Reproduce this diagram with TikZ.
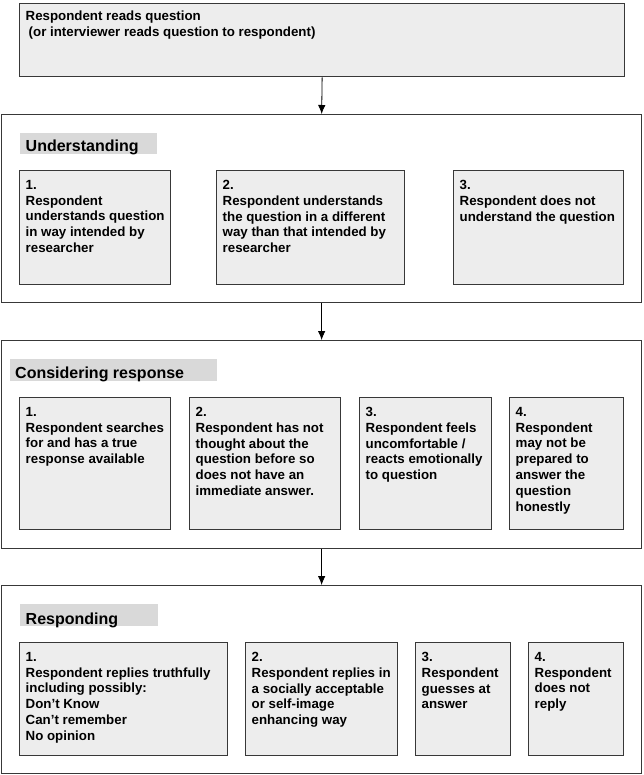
\documentclass[tikz,border=0pt]{standalone}
\usepackage{fontspec}
\setmainfont{Liberation Sans}
\usetikzlibrary{arrows.meta}
\definecolor{boxfill}{HTML}{EDEDED}
\definecolor{barfill}{HTML}{D9D9D9}
\definecolor{edge}{HTML}{383838}
\begin{document}
\begin{tikzpicture}[x=1pt,y=-1pt,
 outer/.style={draw=edge, line width=1.3pt, fill=white, anchor=north west, inner sep=0pt},
 ibox/.style={draw=edge, line width=1pt, fill=boxfill, anchor=north west, inner sep=0pt},
 bar/.style={fill=barfill, anchor=north west, inner sep=0pt},
 itext/.style={anchor=north west, inner sep=0pt, align=left, font=\fontsize{13.3}{15.8}\selectfont\bfseries},
 ttext/.style={anchor=base west, inner sep=0pt, font=\fontsize{16}{19}\selectfont\bfseries},
 arr/.style={-{Latex[length=9pt,width=7.5pt]}, line width=0.8pt}
]
\useasboundingbox (0,0) rectangle (643,775);

% top box
\node[ibox, line width=1.3pt, minimum width=605pt, minimum height=73pt] (top) at (19,3) {};
\node[itext] (topt) at ([shift={(6.5,8)}]top.north west) {Respondent reads question\\\hspace{3pt}(or interviewer reads question to respondent)};

% outer boxes
\node[outer, minimum width=640pt, minimum height=188pt] (und) at (1,114) {};
\node[outer, minimum width=640pt, minimum height=208pt] (cons) at (1,340) {};
\node[outer, minimum width=640pt, minimum height=188pt] (resp) at (1,585) {};

% title bars
\node[bar, minimum width=137pt, minimum height=21pt] (ubar) at (20,133) {};
\node[bar, minimum width=207pt, minimum height=22pt] (cbar) at (10,359) {};
\node[bar, minimum width=138pt, minimum height=22pt] (rbar) at (20,604) {};
\node[ttext] (ut) at (25.5,151.5) {Understanding};
\node[ttext] (ct) at (15,378.5) {Considering response};
\node[ttext] (rt) at (25.5,624) {Responding};

% Understanding boxes
\node[ibox, minimum width=151pt, minimum height=114pt] (u1) at (19,170) {};
\node[ibox, minimum width=188pt, minimum height=114pt] (u2) at (216,170) {};
\node[ibox, minimum width=170pt, minimum height=114pt] (u3) at (453,170) {};
\node[itext] (u1t) at ([shift={(6.5,10)}]u1.north west) {1.\\Respondent\\understands question\\in way intended by\\researcher};
\node[itext] (u2t) at ([shift={(6.5,10)}]u2.north west) {2.\\Respondent understands\\the question in a different\\way than that intended by\\researcher};
\node[itext] (u3t) at ([shift={(6.5,10)}]u3.north west) {3.\\Respondent does not\\understand the question};

% Considering boxes
\node[ibox, minimum width=151pt, minimum height=132pt] (c1) at (19,397) {};
\node[ibox, minimum width=151pt, minimum height=132pt] (c2) at (189,397) {};
\node[ibox, minimum width=132pt, minimum height=132pt] (c3) at (359,397) {};
\node[ibox, minimum width=114pt, minimum height=132pt] (c4) at (509,397) {};
\node[itext] (c1t) at ([shift={(6.5,10)}]c1.north west) {1.\\Respondent searches\\for and has a true\\response available};
\node[itext] (c2t) at ([shift={(6.5,10)}]c2.north west) {2.\\Respondent has not\\thought about the\\question before so\\does not have an\\immediate answer.};
\node[itext] (c3t) at ([shift={(6.5,10)}]c3.north west) {3.\\Respondent feels\\uncomfortable /\\reacts emotionally\\to question};
\node[itext] (c4t) at ([shift={(6.5,10)}]c4.north west) {4.\\Respondent\\may not be\\prepared to\\answer the\\question\\honestly};

% Responding boxes
\node[ibox, minimum width=208pt, minimum height=113pt] (r1) at (19,642) {};
\node[ibox, minimum width=152pt, minimum height=113pt] (r2) at (245,642) {};
\node[ibox, minimum width=95pt, minimum height=113pt] (r3) at (415,642) {};
\node[ibox, minimum width=95pt, minimum height=113pt] (r4) at (528,642) {};
\node[itext] (r1t) at ([shift={(6.5,10)}]r1.north west) {1.\\Respondent replies truthfully\\including possibly:\\Don’t Know\\Can’t remember\\No opinion};
\node[itext] (r2t) at ([shift={(6.5,10)}]r2.north west) {2.\\Respondent replies in\\a socially acceptable\\or self-image\\enhancing way};
\node[itext] (r3t) at ([shift={(6.5,10)}]r3.north west) {3.\\Respondent\\guesses at\\answer};
\node[itext] (r4t) at ([shift={(6.5,10)}]r4.north west) {4.\\Respondent\\does not\\reply};

% arrows
\draw[arr] (top.south) -- (und.north);
\draw[arr] (und.south) -- (cons.north);
\draw[arr] (cons.south) -- (resp.north);
\end{tikzpicture}
\end{document}
